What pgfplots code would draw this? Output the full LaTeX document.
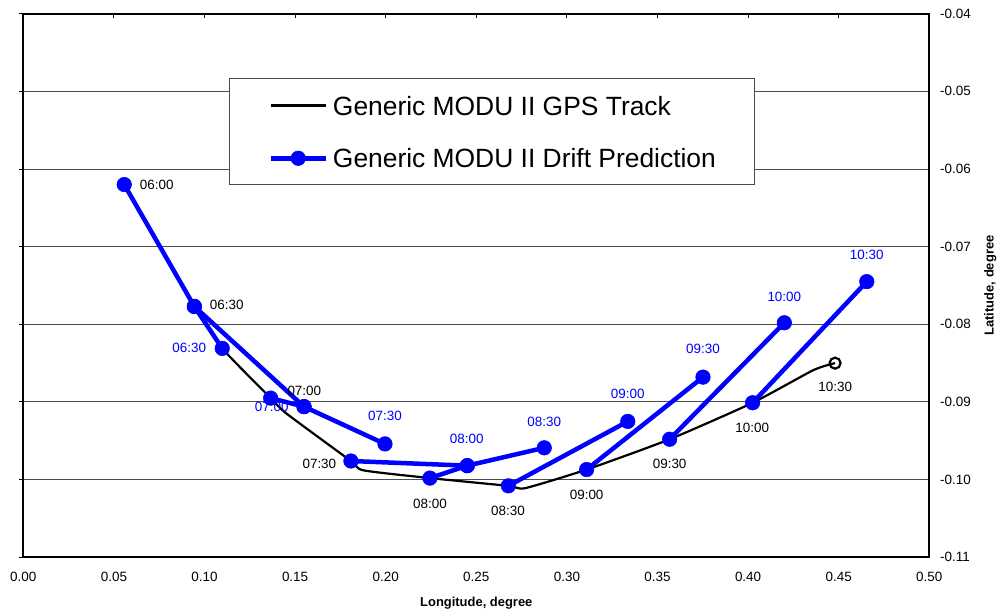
\documentclass[border=0pt]{standalone}
\usepackage{fontspec}
\setmainfont{Liberation Sans}
\usepackage{pgfplots}
\pgfplotsset{compat=1.18}

\definecolor{gridgray}{gray}{0.3}
\definecolor{driftblue}{RGB}{0,0,255}

\newcommand\smallfont{\fontsize{13.5}{15}\selectfont}
\newcommand\legfont{\fontsize{26.5}{30}\selectfont}

\pgfplotsset{
  drift/.style={driftblue, line width=4.5bp, mark=*, mark size=7.3bp,
    mark options={line width=0.5bp, draw=driftblue, fill=driftblue}},
  gps/.style={black, line width=2.2bp},
}
\tikzset{
  gpslbl/.style={font=\smallfont, text=black, inner sep=0pt},
  driftlbl/.style={font=\smallfont, text=driftblue, inner sep=0pt},
}

\begin{document}
\begin{tikzpicture}
\begin{axis}[
  scale only axis,
  width=906bp, height=543.6bp,
  xmin=0, xmax=0.5, ymin=-0.11, ymax=-0.04,
  axis line style={line width=2bp, black},
  xtick={0,0.05,0.1,0.15,0.2,0.25,0.3,0.35,0.4,0.45,0.5},
  xticklabels={0.00,0.05,0.10,0.15,0.20,0.25,0.30,0.35,0.40,0.45,0.50},
  ytick={-0.11,-0.1,-0.09,-0.08,-0.07,-0.06,-0.05,-0.04},
  yticklabels={-0.11,-0.10,-0.09,-0.08,-0.07,-0.06,-0.05,-0.04},
  xtick pos=right, xticklabel pos=left,
  ytick pos=left, yticklabel pos=right,
  tick align=inside, major tick length=4bp,
  tick style={black, line width=1bp},
  ytick style={xshift=-4bp},
  ymajorgrids,
  grid style={gridgray, line width=1bp},
  ticklabel style={font=\smallfont},
  xticklabel style={anchor=north, inner sep=0pt, yshift=-14.4bp},
  yticklabel style={anchor=west, inner sep=0pt, xshift=10.7bp},
  xlabel={Longitude, degree},
  ylabel={Latitude, degree},
  label style={font=\fontsize{13}{15}\selectfont\bfseries},
  xlabel style={at={(axis description cs:0.5,0)}, anchor=center, yshift=-46bp},
  ylabel style={at={(axis description cs:1,0.5)}, anchor=center, yshift=-61bp},
  legend style={
    at={(0.227,0.881)}, anchor=north west,
    draw=black!70, line width=1bp, fill=white,
    font=\legfont,
    inner xsep=39bp, inner ysep=17.2bp,
    row sep=33.7bp, column sep=5bp,
    nodes={inner sep=0pt, text height=19bp, text depth=0bp},
    cells={anchor=west},
  },
  legend image code/.code={
    \draw[mark repeat=2, mark phase=2, #1]
      plot coordinates {(0bp,0bp) (27.5bp,0bp) (55bp,0bp)};
  },
]

% observed GPS track
\addplot[gps, smooth, tension=0.35, mark=none] coordinates {
  (0.0944,-0.0777) (0.1098,-0.0831) (0.1365,-0.0895) (0.1453,-0.0915)
  (0.1808,-0.0976) (0.1877,-0.0988) (0.2244,-0.0998) (0.2677,-0.1008)
  (0.2769,-0.1011) (0.3109,-0.0987) (0.3567,-0.0948) (0.4025,-0.0901)
  (0.4360,-0.0859) (0.4480,-0.0850)
};
\addlegendentry{Generic MODU II GPS Track}
\addplot[gps, only marks, mark=o, mark size=5.5bp, forget plot]
  coordinates {(0.4480,-0.0850)};

% half-hour drift predictions
\addplot[drift] coordinates {(0.0557,-0.0620) (0.0944,-0.0777) (0.1098,-0.0831)};
\addlegendentry{Generic MODU II Drift Prediction}
\addplot[drift, forget plot] coordinates {(0.0944,-0.0777) (0.1549,-0.0906)};
\addplot[drift, forget plot] coordinates {(0.1365,-0.0895) (0.1549,-0.0906) (0.1996,-0.0954)};
\addplot[drift, forget plot] coordinates {(0.1808,-0.0976) (0.2450,-0.0982)};
\addplot[drift, forget plot] coordinates {(0.2244,-0.0998) (0.2450,-0.0982) (0.2875,-0.0959)};
\addplot[drift, forget plot] coordinates {(0.2677,-0.1008) (0.3336,-0.0925)};
\addplot[drift, forget plot] coordinates {(0.3109,-0.0987) (0.3751,-0.0868)};
\addplot[drift, forget plot] coordinates {(0.3567,-0.0948) (0.4200,-0.0798)};
\addplot[drift, forget plot] coordinates {(0.4025,-0.0901) (0.4655,-0.0745)};

% time labels, GPS fixes
\node[gpslbl] at (axis cs:0.0736,-0.0620) {06:00};
\node[gpslbl] at (axis cs:0.1123,-0.0775) {06:30};
\node[gpslbl] at (axis cs:0.1551,-0.0886) {07:00};
\node[gpslbl] at (axis cs:0.1634,-0.0980) {07:30};
\node[gpslbl] at (axis cs:0.2244,-0.1031) {08:00};
\node[gpslbl] at (axis cs:0.2675,-0.1040) {08:30};
\node[gpslbl] at (axis cs:0.3109,-0.1019) {09:00};
\node[gpslbl] at (axis cs:0.3567,-0.0980) {09:30};
\node[gpslbl] at (axis cs:0.4023,-0.0933) {10:00};
\node[gpslbl] at (axis cs:0.4481,-0.0881) {10:30};

% time labels, predicted positions
\node[driftlbl] at (axis cs:0.0916,-0.0830) {06:30};
\node[driftlbl] at (axis cs:0.1371,-0.0906) {07:00};
\node[driftlbl] at (axis cs:0.1996,-0.0918) {07:30};
\node[driftlbl] at (axis cs:0.2447,-0.0947) {08:00};
\node[driftlbl] at (axis cs:0.2875,-0.0925) {08:30};
\node[driftlbl] at (axis cs:0.3336,-0.0890) {09:00};
\node[driftlbl] at (axis cs:0.3751,-0.0832) {09:30};
\node[driftlbl] at (axis cs:0.4200,-0.0765) {10:00};
\node[driftlbl] at (axis cs:0.4655,-0.0711) {10:30};

\end{axis}
\pgfresetboundingbox
\path ([shift={(-23.3bp,-56.7bp)}]current axis.south west)
  rectangle ([shift={(69.7bp,13.7bp)}]current axis.north east);
\end{tikzpicture}
\end{document}
